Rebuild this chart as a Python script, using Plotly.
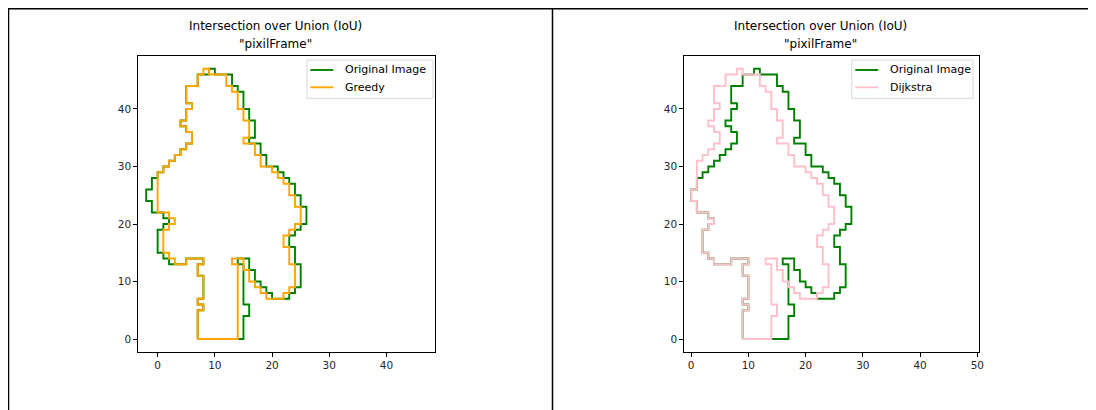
import plotly.graph_objects as go

# page is 1096x410; the html body has an 8px margin, so the figure is 1088x402
PAGE_OFF = 8
W, H = 1088, 402

# ---- data: contour vertices (x, y) ----
# left panel
original_left = [(7,0),(7,5),(8,5),(8,6),(7,6),(7,7),(8,7),(8,11),(7,11),(7,13),(8,13),(8,14),(5,14),(5,13),
    (2,13),(2,14),(1,14),(1,15),(0,15),(0,19),(1,19),(1,20),(2,20),(2,21),(1,21),(1,22),(-1,22),(-1,24),
    (-2,24),(-2,26),(-1,26),(-1,28),(0,28),(0,29),(1,29),(1,30),(2,30),(2,31),(3,31),(3,32),(4,32),(4,33),
    (5,33),(5,34),(6,34),(6,36),(5,36),(5,37),(4,37),(4,38),(5,38),(5,40),(6,40),(6,41),(5,41),(5,44),
    (7,44),(7,46),(9,46),(9,47),(10,47),(10,46),(13,46),(13,44),(14,44),(14,43),(15,43),(15,40),(16,40),
    (16,38),(17,38),(17,35),(16,35),(16,34),(18,34),(18,32),(19,32),(19,30),(21,30),(21,29),(22,29),
    (22,28),(23,28),(23,27),(24,27),(24,25),(25,25),(25,23),(26,23),(26,20),(25,20),(25,19),(24,19),
    (24,18),(23,18),(23,16),(24,16),(24,13),(25,13),(25,9),(24,9),(24,8),(23,8),(23,7),(20,7),(20,8),
    (19,8),(19,9),(18,9),(18,10),(17,10),(17,12),(16,12),(16,14),(14,14),(14,13),(15,13),(15,6),(16,6),
    (16,4),(15,4),(15,0),(7,0)]

greedy = [(7,0),(7,5),(8,5),(8,6),(7,6),(7,7),(8,7),(8,11),(7,11),(7,13),(8,13),(8,14),(5,14),(5,13),
    (3,13),(3,14),(2,14),(2,15),(1,15),(1,19),(2,19),(2,20),(3,20),(3,21),(2,21),(2,22),(0,22),(0,29),
    (1,29),(1,30),(2,30),(2,31),(3,31),(3,32),(4,32),(4,33),(5,33),(5,34),(6,34),(6,36),(5,36),(5,37),
    (4,37),(4,38),(5,38),(5,40),(6,40),(6,41),(5,41),(5,44),(7,44),(7,46),(8,46),(8,47),(9,47),(9,46),
    (12,46),(12,44),(13,44),(13,43),(14,43),(14,40),(15,40),(15,38),(16,38),(16,35),(15,35),(15,34),
    (17,34),(17,32),(18,32),(18,30),(20,30),(20,29),(21,29),(21,28),(22,28),(22,27),(23,27),(23,25),
    (24,25),(24,23),(25,23),(25,20),(24,20),(24,19),(23,19),(23,18),(22,18),(22,16),(23,16),(23,13),
    (24,13),(24,9),(23,9),(23,8),(22,8),(22,7),(19,7),(19,8),(18,8),(18,9),(17,9),(17,10),(16,10),
    (16,12),(15,12),(15,14),(13,14),(13,13),(14,13),(14,0),(7,0)]

# right panel
original_right = [(9,0),(9,5),(10,5),(10,6),(9,6),(9,7),(10,7),(10,11),(9,11),(9,13),(10,13),(10,14),(7,14),
    (7,13),(4,13),(4,14),(3,14),(3,15),(2,15),(2,19),(3,19),(3,20),(4,20),(4,21),(3,21),(3,22),(1,22),
    (1,24),(0,24),(0,26),(1,26),(1,28),(2,28),(2,29),(3,29),(3,30),(4,30),(4,31),(5,31),(5,32),(6,32),
    (6,33),(7,33),(7,34),(8,34),(8,36),(7,36),(7,37),(6,37),(6,38),(7,38),(7,40),(8,40),(8,41),(7,41),
    (7,44),(9,44),(9,46),(11,46),(11,47),(12,47),(12,46),(15,46),(15,44),(16,44),(16,43),(17,43),(17,40),
    (18,40),(18,38),(19,38),(19,35),(18,35),(18,34),(20,34),(20,32),(21,32),(21,30),(23,30),(23,29),
    (24,29),(24,28),(25,28),(25,27),(26,27),(26,25),(27,25),(27,23),(28,23),(28,20),(27,20),(27,19),
    (26,19),(26,18),(25,18),(25,16),(26,16),(26,13),(27,13),(27,9),(26,9),(26,8),(25,8),(25,7),(22,7),
    (22,8),(21,8),(21,9),(20,9),(20,10),(19,10),(19,12),(18,12),(18,14),(16,14),(16,13),(17,13),(17,6),
    (18,6),(18,4),(17,4),(17,0),(9,0)]

dijkstra = [(9,0),(9,5),(10,5),(10,6),(9,6),(9,7),(10,7),(10,11),(9,11),(9,13),(10,13),(10,14),(7,14),
    (7,13),(4,13),(4,14),(3,14),(3,15),(2,15),(2,19),(3,19),(3,20),(4,20),(4,21),(3,21),(3,22),(1,22),
    (1,24),(0,24),(0,26),(1,26),(1,31),(2,31),(2,32),(3,32),(3,33),(4,33),(4,34),(5,34),(5,36),(4,36),
    (4,37),(3,37),(3,38),(4,38),(4,40),(5,40),(5,41),(4,41),(4,44),(6,44),(6,46),(8,46),(8,47),(9,47),
    (9,46),(12,46),(12,44),(13,44),(13,43),(14,43),(14,40),(15,40),(15,38),(16,38),(16,35),(15,35),
    (15,34),(17,34),(17,32),(18,32),(18,30),(20,30),(20,29),(21,29),(21,28),(22,28),(22,27),(23,27),
    (23,25),(24,25),(24,23),(25,23),(25,20),(24,20),(24,19),(23,19),(23,18),(22,18),(22,16),(23,16),
    (23,13),(24,13),(24,9),(23,9),(23,8),(22,8),(22,7),(19,7),(19,8),(18,8),(18,9),(17,9),(17,10),
    (16,10),(16,12),(15,12),(15,14),(13,14),(13,13),(14,13),(14,6),(15,6),(15,4),(14,4),(14,0),(9,0)]

title_line1 = "Intersection over Union (IoU)"
title_line2 = '"pixilFrame"'
left_xticks = [0, 10, 20, 30, 40]
right_xticks = [0, 10, 20, 30, 40, 50]
yticks = [0, 10, 20, 30, 40]
left_legend = ["Original Image", "Greedy"]
right_legend = ["Original Image", "Dijkstra"]

GREEN, ORANGE, PINK = "#008000", "#FFA500", "#FFC0CB"
FONT = "DejaVu Sans"


def px(x):
    """page pixel x -> paper fraction"""
    return (x - PAGE_OFF) / W


def py(y):
    """page pixel y -> paper fraction"""
    return 1 - (y - PAGE_OFF) / H


def xy(pts):
    return [p[0] for p in pts], [p[1] for p in pts]


fig = go.Figure()
for pts, name, color, xa, ya in [
    (original_left, left_legend[0], GREEN, "x", "y"),
    (greedy, left_legend[1], ORANGE, "x", "y"),
    (original_right, right_legend[0], GREEN, "x2", "y2"),
    (dijkstra, right_legend[1], PINK, "x2", "y2"),
]:
    xs, ys = xy(pts)
    fig.add_trace(go.Scatter(x=xs, y=ys, mode="lines", name=name, showlegend=False,
                             line=dict(color=color, width=1.9), xaxis=xa, yaxis=ya))

axis_common = dict(showline=True, linecolor="black", linewidth=0.8, mirror=True,
                   ticks="outside", ticklen=3.5, tickwidth=0.8, tickcolor="black",
                   showgrid=False, zeroline=False,
                   tickfont=dict(family=FONT, size=10.5, color="#262626"))

ydom = [py(352.3), py(55.5)]
fig.update_layout(
    width=W, height=H, margin=dict(l=0, r=0, t=0, b=0),
    paper_bgcolor="white", plot_bgcolor="white",
    font=dict(family=FONT, color="black"),
    showlegend=False,
    xaxis=dict(domain=[px(138.3), px(436.7)], range=[-3.48, 48.42], tickvals=left_xticks,
               anchor="y", **axis_common),
    yaxis=dict(domain=ydom, range=[-2.31, 49.3], tickvals=yticks, anchor="x", **axis_common),
    xaxis2=dict(domain=[px(686.7), px(983.3)], range=[-1.32, 50.26], tickvals=right_xticks,
                anchor="y2", **axis_common),
    yaxis2=dict(domain=ydom, range=[-2.31, 49.3], tickvals=yticks, anchor="x2", **axis_common),
)

# titles
for cx in (276.5, 824.5):
    fig.add_annotation(x=px(cx), y=py(26), xref="paper", yref="paper", text=title_line1,
                       showarrow=False, xanchor="center", yanchor="middle",
                       font=dict(family=FONT, size=12, color="black"))
    fig.add_annotation(x=px(cx), y=py(44), xref="paper", yref="paper", text=title_line2,
                       showarrow=False, xanchor="center", yanchor="middle",
                       font=dict(family=FONT, size=12, color="black"))

# legends (matplotlib-style boxes)
for (bx0, bx1), labels, colors in [
    ((308.3, 435.0), left_legend, [GREEN, ORANGE]),
    ((855.7, 977.5), right_legend, [GREEN, PINK]),
]:
    fig.add_shape(type="rect", xref="paper", yref="paper", x0=px(bx0), x1=px(bx1),
                  y0=py(98.3), y1=py(60), line=dict(color="#d6d6d6", width=1),
                  fillcolor="rgba(255,255,255,0.8)", layer="above")
    for i, (lab, col) in enumerate(zip(labels, colors)):
        yy = 70 + i * 17.3
        fig.add_shape(type="line", xref="paper", yref="paper", x0=px(bx0 + 3.5), x1=px(bx0 + 26.5),
                      y0=py(yy), y1=py(yy), line=dict(color=col, width=1.9), layer="above")
        fig.add_annotation(x=px(bx0 + 36), y=py(yy), xref="paper", yref="paper", text=lab,
                           showarrow=False, xanchor="left", yanchor="middle",
                           font=dict(family=FONT, size=11, color="black"))

# outer frame lines of the screenshot
frame = [
    (8, 8.5, 1096, 8.5, 2),
    (8.5, 8, 8.5, 410, 1.5),
    (555, 8, 555, 410, 1.5),
]
for x0, y0, x1, y1, w in frame:
    fig.add_shape(type="line", xref="paper", yref="paper", x0=px(x0), y0=py(y0), x1=px(x1), y1=py(y1),
                  line=dict(color="black", width=w))

fig.write_html("out.html")
